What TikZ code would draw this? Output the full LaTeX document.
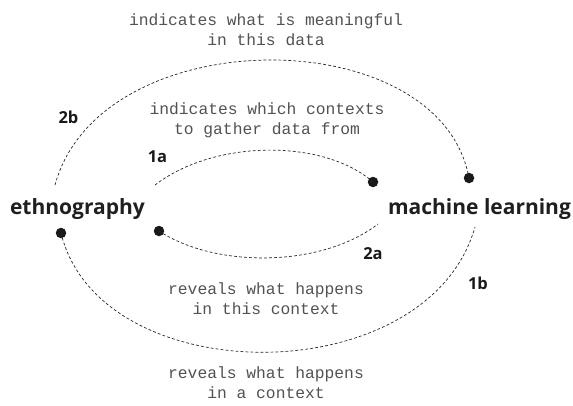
\documentclass[tikz,border=0pt]{standalone}
\usepackage{fontspec}
\setmainfont{Open Sans}
\newfontfamily\monofnt{Liberation Mono}
\begin{document}
\begin{tikzpicture}[x=1pt,y=-1pt,
  concept/.style={font=\fontsize{21}{25}\selectfont\bfseries, text=black!88, inner sep=0pt, anchor=base},
  note/.style={font=\monofnt\fontsize{16.3}{20}\selectfont, text=black!68, align=center, inner sep=0pt},
  tag/.style={font=\fontsize{16.5}{19}\selectfont\bfseries, text=black!90, inner sep=0pt},
  dot/.style={circle, fill=black!90, inner sep=0pt, minimum size=10.5pt},
  link/.style={line width=0.7pt, draw=black!85, dash pattern=on 2.8pt off 2.2pt}]
\useasboundingbox (0,0) rectangle (573,405);
% concepts
\node[concept] (eth) at (77.5,214) {ethnography};
\node[concept] (ml) at (479.5,214) {machine learning};
% notes
\node[note] (n1) at (266,30) {indicates what is meaningful\\in this data};
\node[note] (n2) at (267,120) {indicates which contexts\\to gather data from};
\node[note] (n3) at (266,299) {reveals what happens\\in this context};
\node[note] (n4) at (266,383) {reveals what happens\\in a context};
% tags
\node[tag] (t2b) at (68.5,117) {2b};
\node[tag] (t1a) at (157.5,157) {1a};
\node[tag] (t2a) at (373,254) {2a};
\node[tag] (t1b) at (478,283) {1b};
% dots
\node[dot] (d1) at (373,182) {};
\node[dot] (d2) at (469,178) {};
\node[dot] (d3) at (61,233) {};
\node[dot] (d4) at (159,231) {};
% free ends
\coordinate (s1) at (155,185);
\coordinate (s2) at (55,185);
\coordinate (s3) at (378,224);
\coordinate (s4) at (475,227);
% connectors
\draw[link] (s1) .. controls (215,139) and (324,139) .. (d1.center);
\draw[link] (s2) .. controls (100,19.5) and (440,19.5) .. (d2.center);
\draw[link] (d4.center) .. controls (215,268) and (321,268) .. (s3);
\draw[link] (d3.center) .. controls (100,393) and (428,393) .. (s4);
\end{tikzpicture}
\end{document}
